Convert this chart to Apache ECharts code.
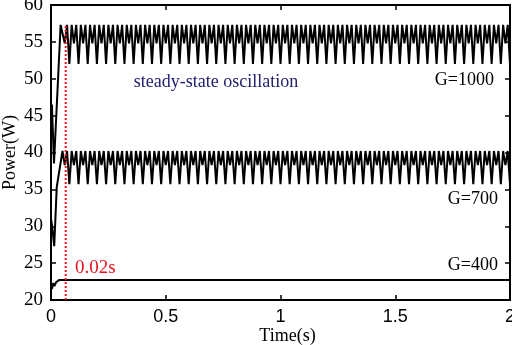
<!DOCTYPE html>
<html lang="en">

<head>
  <meta charset="UTF-8">
  <title>Power vs Time</title>
  <script src="https://cdn.jsdelivr.net/npm/echarts@6/dist/echarts.min.js"></script>
  <style>
    * {
      margin: 0;
      padding: 0;
    }

    #chart {
      width: 512px;
      height: 345px;
      background: #fff;
    }
  </style>
</head>

<body>
  <div id="chart"></div>

  <script>
    // start-up transient: [time, power]
    const start1000T = [0, 0.004, 0.013, 0.042];
    const start1000V = [45.0, 46.5, 38.5, 57.3];
    const start700T = [0, 0.005, 0.014, 0.025, 0.05];
    const start700V = [31.0, 30.0, 27.3, 35.3, 40.2];
    const g400T = [0, 0.004, 0.01, 0.015, 0.022, 0.035, 2.0];
    const g400V = [22.3, 21.5, 22.3, 21.9, 22.4, 22.7, 22.7];

    // steady state, one sample every 0.01 s starting at 0.05 s
    const steady1000 = [
      57.3, 54.8, 57.3, 52.0, 57.3, 54.8, 57.3, 52.0, 57.3, 54.8, 57.3, 52.0, 57.3, 54.8, 57.3, 52.0,
      57.3, 54.8, 57.3, 52.0, 57.3, 54.8, 57.3, 52.0, 57.3, 54.8, 57.3, 52.0, 57.3, 54.8, 57.3, 52.0,
      57.3, 54.8, 57.3, 52.0, 57.3, 54.8, 57.3, 52.0, 57.3, 54.8, 57.3, 52.0, 57.3, 54.8, 57.3, 52.0,
      57.3, 54.8, 57.3, 52.0, 57.3, 54.8, 57.3, 52.0, 57.3, 54.8, 57.3, 52.0, 57.3, 54.8, 57.3, 52.0,
      57.3, 54.8, 57.3, 52.0, 57.3, 54.8, 57.3, 52.0, 57.3, 54.8, 57.3, 52.0, 57.3, 54.8, 57.3, 52.0,
      57.3, 54.8, 57.3, 52.0, 57.3, 54.8, 57.3, 52.0, 57.3, 54.8, 57.3, 52.0, 57.3, 54.8, 57.3, 52.0,
      57.3, 54.8, 57.3, 52.0, 57.3, 54.8, 57.3, 52.0, 57.3, 54.8, 57.3, 52.0, 57.3, 54.8, 57.3, 52.0,
      57.3, 54.8, 57.3, 52.0, 57.3, 54.8, 57.3, 52.0, 57.3, 54.8, 57.3, 52.0, 57.3, 54.8, 57.3, 52.0,
      57.3, 54.8, 57.3, 52.0, 57.3, 54.8, 57.3, 52.0, 57.3, 54.8, 57.3, 52.0, 57.3, 54.8, 57.3, 52.0,
      57.3, 54.8, 57.3, 52.0, 57.3, 54.8, 57.3, 52.0, 57.3, 54.8, 57.3, 52.0, 57.3, 54.8, 57.3, 52.0,
      57.3, 54.8, 57.3, 52.0, 57.3, 54.8, 57.3, 52.0, 57.3, 54.8, 57.3, 52.0, 57.3, 54.8, 57.3, 52.0,
      57.3, 54.8, 57.3, 52.0, 57.3, 54.8, 57.3, 52.0, 57.3, 54.8, 57.3, 52.0, 57.3, 54.8, 57.3, 52.0,
      57.3, 54.8, 57.3, 52.0
    ];
    const steady700 = [
      40.2, 38.3, 40.2, 35.7, 40.2, 38.3, 40.2, 35.7, 40.2, 38.3, 40.2, 35.7, 40.2, 38.3, 40.2, 35.7,
      40.2, 38.3, 40.2, 35.7, 40.2, 38.3, 40.2, 35.7, 40.2, 38.3, 40.2, 35.7, 40.2, 38.3, 40.2, 35.7,
      40.2, 38.3, 40.2, 35.7, 40.2, 38.3, 40.2, 35.7, 40.2, 38.3, 40.2, 35.7, 40.2, 38.3, 40.2, 35.7,
      40.2, 38.3, 40.2, 35.7, 40.2, 38.3, 40.2, 35.7, 40.2, 38.3, 40.2, 35.7, 40.2, 38.3, 40.2, 35.7,
      40.2, 38.3, 40.2, 35.7, 40.2, 38.3, 40.2, 35.7, 40.2, 38.3, 40.2, 35.7, 40.2, 38.3, 40.2, 35.7,
      40.2, 38.3, 40.2, 35.7, 40.2, 38.3, 40.2, 35.7, 40.2, 38.3, 40.2, 35.7, 40.2, 38.3, 40.2, 35.7,
      40.2, 38.3, 40.2, 35.7, 40.2, 38.3, 40.2, 35.7, 40.2, 38.3, 40.2, 35.7, 40.2, 38.3, 40.2, 35.7,
      40.2, 38.3, 40.2, 35.7, 40.2, 38.3, 40.2, 35.7, 40.2, 38.3, 40.2, 35.7, 40.2, 38.3, 40.2, 35.7,
      40.2, 38.3, 40.2, 35.7, 40.2, 38.3, 40.2, 35.7, 40.2, 38.3, 40.2, 35.7, 40.2, 38.3, 40.2, 35.7,
      40.2, 38.3, 40.2, 35.7, 40.2, 38.3, 40.2, 35.7, 40.2, 38.3, 40.2, 35.7, 40.2, 38.3, 40.2, 35.7,
      40.2, 38.3, 40.2, 35.7, 40.2, 38.3, 40.2, 35.7, 40.2, 38.3, 40.2, 35.7, 40.2, 38.3, 40.2, 35.7,
      40.2, 38.3, 40.2, 35.7, 40.2, 38.3, 40.2, 35.7, 40.2, 38.3, 40.2, 35.7, 40.2, 38.3, 40.2, 35.7,
      40.2, 38.3, 40.2, 35.7
    ];
    const steadyStart = 0.05;
    const steadyStep = 0.01;

    // red marker line
    const markT = 0.064;
    const markV = [20, 57.3];

    const serif = '"Liberation Serif", "DejaVu Serif", serif';
    const sans = '"Liberation Sans", Arial, sans-serif';

    function pairs(ts, vs) {
      return ts.map((t, i) => [t, vs[i]]);
    }

    function steadyPairs(vs) {
      return vs.map((v, i) => [+(steadyStart + i * steadyStep).toFixed(2), v]);
    }

    const myChart = echarts.init(document.getElementById('chart'));

    const lineStyle = { color: '#000', width: 2 };
    const tick = { inside: true, length: 5, lineStyle: { color: '#000', width: 1.5 } };
    const frame = { show: true, onZero: false, lineStyle: { color: '#000', width: 2 } };

    const option = {
      animation: false,
      grid: {
        left: 51, right: 2, top: 5, bottom: 45,
        containLabel: false, outerBoundsMode: 'none',
        show: true, borderColor: '#000', borderWidth: 2
      },
      xAxis: [{
        type: 'value',
        min: 0,
        max: 2,
        interval: 0.5,
        position: 'bottom',
        name: 'Time(s)',
        nameLocation: 'middle',
        nameGap: 27,
        nameMoveOverlap: false,
        nameTextStyle: { fontFamily: serif, fontSize: 18, color: '#000', padding: [0, 0, 0, 14] },
        axisLine: frame,
        axisTick: tick,
        axisLabel: { fontFamily: sans, fontSize: 18, color: '#000', margin: 8 },
        splitLine: { show: false }
      }, {
        type: 'value',
        min: 0,
        max: 2,
        interval: 0.5,
        position: 'top',
        axisLine: frame,
        axisTick: tick,
        axisLabel: { show: false },
        splitLine: { show: false }
      }],
      yAxis: [{
        type: 'value',
        min: 20,
        max: 60,
        interval: 5,
        position: 'left',
        name: 'Power(W)',
        nameLocation: 'middle',
        nameGap: 32,
        nameMoveOverlap: false,
        nameTextStyle: { fontFamily: serif, fontSize: 18, color: '#000' },
        axisLine: frame,
        axisTick: tick,
        axisLabel: { fontFamily: serif, fontSize: 19, color: '#000', margin: 8, padding: [3, 0, 0, 0] },
        splitLine: { show: false }
      }, {
        type: 'value',
        min: 20,
        max: 60,
        interval: 5,
        position: 'right',
        axisLine: frame,
        axisTick: tick,
        axisLabel: { show: false },
        splitLine: { show: false }
      }],
      series: [{
        name: 'G=1000',
        type: 'line',
        showSymbol: false,
        lineStyle,
        data: pairs(start1000T, start1000V).concat(steadyPairs(steady1000))
      }, {
        name: 'G=700',
        type: 'line',
        showSymbol: false,
        lineStyle,
        data: pairs(start700T, start700V).concat(steadyPairs(steady700))
      }, {
        name: 'G=400',
        type: 'line',
        showSymbol: false,
        lineStyle,
        data: pairs(g400T, g400V)
      }, {
        name: 'mark',
        type: 'line',
        showSymbol: false,
        lineStyle: { color: '#e8141c', width: 2, type: [2, 2] },
        data: markV.map(v => [markT, v]),
        z: 5
      }],
      graphic: [
        { type: 'text', x: 216, y: 82, style: { text: 'steady-state oscillation', font: '18px ' + serif, fill: '#23216e', textAlign: 'center', textVerticalAlign: 'middle' } },
        { type: 'text', x: 494, y: 80, style: { text: 'G=1000', font: '18px ' + serif, fill: '#000', textAlign: 'right', textVerticalAlign: 'middle' } },
        { type: 'text', x: 498, y: 199, style: { text: 'G=700', font: '18px ' + serif, fill: '#000', textAlign: 'right', textVerticalAlign: 'middle' } },
        { type: 'text', x: 498, y: 265, style: { text: 'G=400', font: '18px ' + serif, fill: '#000', textAlign: 'right', textVerticalAlign: 'middle' } },
        { type: 'text', x: 75, y: 268, style: { text: '0.02s', font: '19px ' + serif, fill: '#e8141c', textAlign: 'left', textVerticalAlign: 'middle' } }
      ]
    };

    myChart.setOption(option);
  </script>
</body>

</html>
